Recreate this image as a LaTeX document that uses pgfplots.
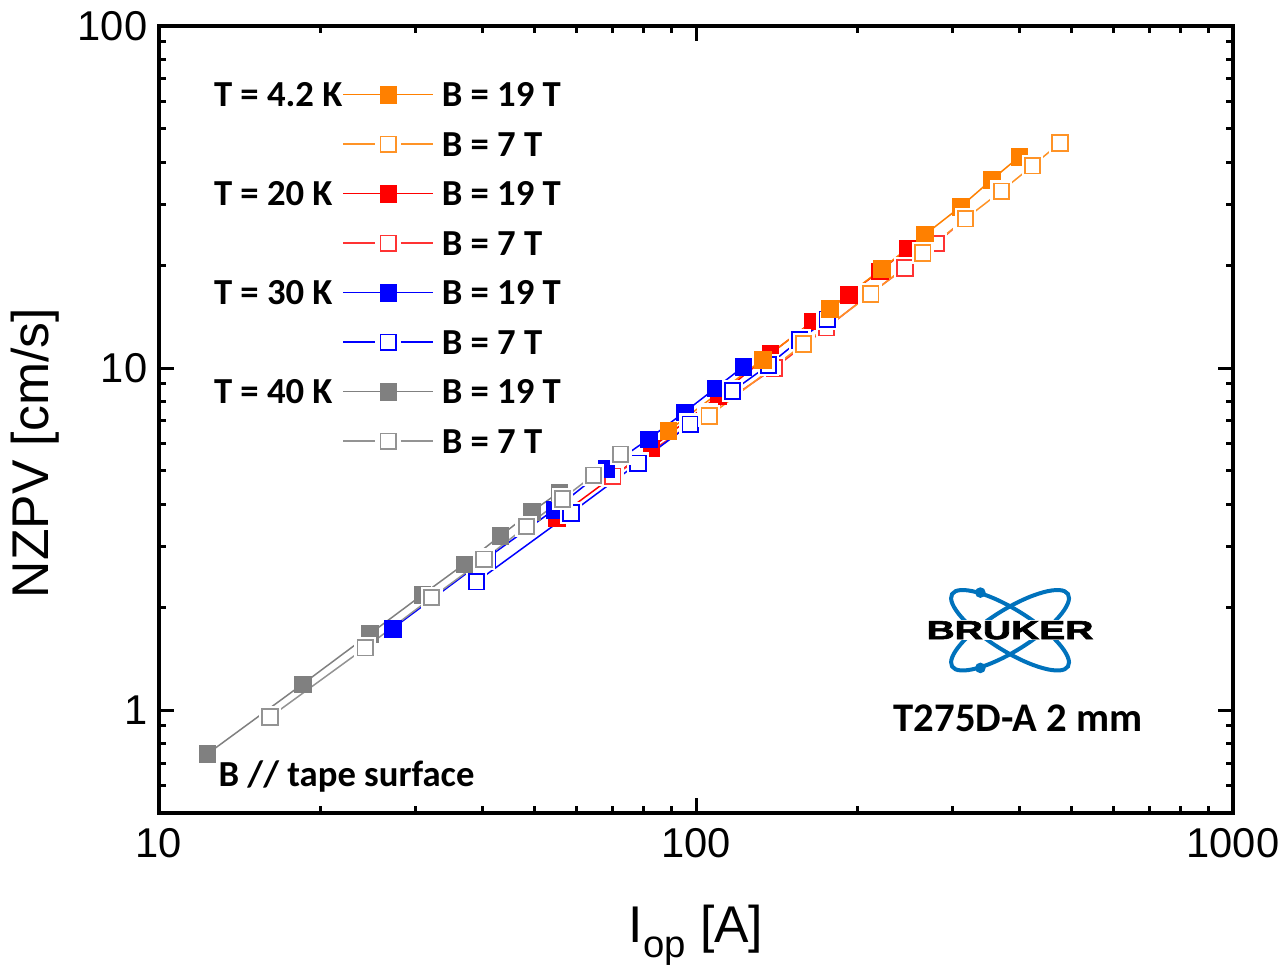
\documentclass[border=0pt]{standalone}
\usepackage{pgfplots}
\pgfplotsset{compat=1.18}
\usepackage{pgfplotstable}
\usepackage{fontspec}
\setmainfont{Liberation Sans}
\newfontfamily\carlito{Carlito}
\newfontfamily\brukerfont[FakeBold=2.2]{Liberation Sans Bold}
\usetikzlibrary{calc}
\definecolor{corange}{RGB}{255,128,0}
\definecolor{cred}{RGB}{255,0,0}
\definecolor{cblue}{RGB}{0,0,255}
\definecolor{cgray}{RGB}{128,128,128}
\definecolor{brukerblue}{RGB}{0,114,188}

% T = 40 K
\pgfplotstableread{
x y
12.3 0.744
18.5 1.19
24.7 1.67
30.9 2.17
37.0 2.67
43.2 3.23
49.4 3.80
55.6 4.33
}\grayF
\pgfplotstableread{
x y
16.1 0.954
24.2 1.52
32.2 2.13
40.3 2.76
48.3 3.44
56.4 4.14
64.4 4.86
72.4 5.60
}\grayO
% T = 30 K
\pgfplotstableread{
x y
27.2 1.73
40.8 2.78
54.4 3.85
68.0 5.08
81.6 6.20
95.2 7.43
108.8 8.74
122.4 10.07
}\blueF
\pgfplotstableread{
x y
39.0 2.37
58.5 3.77
78.0 5.27
97.5 6.85
117.0 8.57
136.5 10.2
156.0 12.08
175.5 13.9
}\blueO
% T = 20 K
\pgfplotstableread{
x y
55.0 3.64
82.5 5.83
110.0 8.28
137.5 10.99
165.0 13.7
192.5 16.4
220.0 19.2
247.5 22.3
}\redF
\pgfplotstableread{
x y
70 4.83
105 7.34
140 10.0
175 13.1
210 16.4
245 19.6
280 23.1
315 27.1
}\redO
% T = 4.2 K
\pgfplotstableread{
x y
88.8 6.55
133.2 10.6
177.6 14.9
222.0 19.5
266.4 24.5
310.8 29.6
355.2 35.5
399.6 41.4
}\orangeF
\pgfplotstableread{
x y
105.8 7.24
158.7 11.75
211.6 16.45
264.5 21.7
317.4 27.3
370.3 32.9
423.2 39.0
476.1 45.5
}\orangeO

\pgfplotsset{
  filledS/.style={color=#1, line width=0.45pt, mark=square*, mark size=2.5pt,
     mark options={solid, fill=#1, draw=#1, line width=0.1pt}},
  openS/.style={color=#1, line width=0.45pt, mark=square*, mark size=2.3pt,
     mark options={solid, fill=white, draw=#1, line width=0.55pt}},
  openline/.style={color=#1, line width=0.45pt, no markers},
  openhalo/.style={color=white, only marks, mark=square*, mark size=3.1pt,
     mark options={solid, fill=white, draw=white, line width=0.3pt}},
  openmarks/.style={only marks, mark=square*, mark size=2.3pt,
     mark options={solid, fill=white, draw=#1, line width=0.55pt}},
  openlegend/.style={legend image code/.code={%
     \draw[##1] (0pt,0pt)--(9.7pt,0pt) (17.3pt,0pt)--(27pt,0pt);
     \draw[##1] plot coordinates {(13.5pt,0pt)};}},
}

\begin{document}
\begin{tikzpicture}
\begin{axis}[
  scale only axis, width=322.2pt, height=236.1pt,
  xmode=log, ymode=log,
  xmin=10, xmax=1000, ymin=0.5, ymax=100,
  log ticks with fixed point,
  /pgf/number format/assume math mode=true,
  /pgf/number format/1000 sep={},
  ticklabel style={font=\fontsize{12.5}{12.5}\selectfont},
  xticklabel style={yshift=-1pt},
  axis line style={line width=1pt},
  tick style={line width=0.9pt, black},
  major tick length=4.5pt, minor tick length=2.1pt,
  xlabel={I\raisebox{-4.5pt}{\fontsize{11.5}{11.5}\selectfont op} [A]},
  ylabel={NZPV [cm/s]},
  label style={font=\fontsize{15.5}{15.5}\selectfont},
  xlabel style={at={(axis description cs:0.5,-0.165)}, anchor=base},
  ylabel style={at={(axis description cs:-0.1155,0.457)}, anchor=center},
  legend image code/.code={\draw[mark repeat=2,mark phase=2,#1] plot coordinates {(0pt,0pt) (13.5pt,0pt) (27pt,0pt)};},
  legend columns=2,
  legend cell align=left,
  legend style={
    at={(axis description cs:0.0438,0.928)}, anchor=north west,
    draw=none, fill=none, inner sep=0pt, outer sep=0pt,
    font=\carlito\bfseries\fontsize{11}{11}\selectfont,
    row sep=7.65pt,
    nodes={inner sep=0pt, text height=7.2pt, text depth=0pt, anchor=west},
    /tikz/every odd column/.append style={column sep=2.4pt},
    /tikz/every even column/.append style={column sep=0pt},
  },
]
% T = 20 K
\addplot[forget plot, filledS=cred] table {\redF};
\addplot[forget plot, openline=cred!80] table {\redO};
\addplot[forget plot, openhalo] table {\redO};
\addplot[forget plot, openmarks=cred!80] table {\redO};
% T = 30 K
\addplot[forget plot, filledS=cblue] table {\blueF};
\addplot[forget plot, openline=cblue] table {\blueO};
\addplot[forget plot, openhalo] table {\blueO};
\addplot[forget plot, openmarks=cblue] table {\blueO};
% T = 40 K
\addplot[forget plot, filledS=cgray] table {\grayF};
\addplot[forget plot, openline=cgray!85] table {\grayO};
\addplot[forget plot, openhalo] table {\grayO};
\addplot[forget plot, openmarks=cgray!85] table {\grayO};
% T = 4.2 K
\addplot[forget plot, filledS=corange] table {\orangeF};
\addplot[forget plot, openline=corange!85] table {\orangeO};
\addplot[forget plot, openhalo] table {\orangeO};
\addplot[forget plot, openmarks=corange!85] table {\orangeO};

\addlegendimage{empty legend}\addlegendentry{T = 4.2 K}
\addlegendimage{filledS=corange}\addlegendentry{B = 19 T}
\addlegendimage{empty legend}\addlegendentry{}
\addlegendimage{openS=corange!85, openlegend}\addlegendentry{B = 7 T}
\addlegendimage{empty legend}\addlegendentry{T = 20 K}
\addlegendimage{filledS=cred}\addlegendentry{B = 19 T}
\addlegendimage{empty legend}\addlegendentry{}
\addlegendimage{openS=cred!80, openlegend}\addlegendentry{B = 7 T}
\addlegendimage{empty legend}\addlegendentry{T = 30 K}
\addlegendimage{filledS=cblue}\addlegendentry{B = 19 T}
\addlegendimage{empty legend}\addlegendentry{}
\addlegendimage{openS=cblue, openlegend}\addlegendentry{B = 7 T}
\addlegendimage{empty legend}\addlegendentry{T = 40 K}
\addlegendimage{filledS=cgray}\addlegendentry{B = 19 T}
\addlegendimage{empty legend}\addlegendentry{}
\addlegendimage{openS=cgray!85, openlegend}\addlegendentry{B = 7 T}

\node[anchor=base west, font=\carlito\bfseries\fontsize{11}{11}\selectfont, inner sep=0pt]
  at (axis description cs:0.0549,0.0343) {B // tape surface};
\node[anchor=base, font=\carlito\bfseries\fontsize{12.2}{12.2}\selectfont, inner sep=0pt]
  at (axis description cs:0.7998,0.104) {T275D-A 2 mm};
\coordinate (logo) at (axis description cs:0.7924,0.2322);
\end{axis}
\begin{scope}[shift={(logo)}]
  \draw[brukerblue, line width=1.2pt, rotate=32] (0,0) ellipse [x radius=20.5pt, y radius=6.2pt];
  \draw[brukerblue, line width=1.2pt, rotate=-32] (0,0) ellipse [x radius=20.5pt, y radius=6.2pt];
  \fill[brukerblue] (-8.9pt,11.3pt) circle (1.6pt);
  \fill[brukerblue] (-8.9pt,-11.3pt) circle (1.6pt);
  \node[fill=white, inner xsep=0.6pt, inner ysep=0.3pt, font=\brukerfont\fontsize{7.8}{7.8}\selectfont] at (0,0) {\scalebox{1.5}[1]{BRUKER}};
\end{scope}
\pgfresetboundingbox
\path[use as bounding box] ($(current axis.south west)+(-47.7pt,-48pt)$) rectangle ($(current axis.north east)+(16.2pt,7.8pt)$);
\end{tikzpicture}
\end{document}
